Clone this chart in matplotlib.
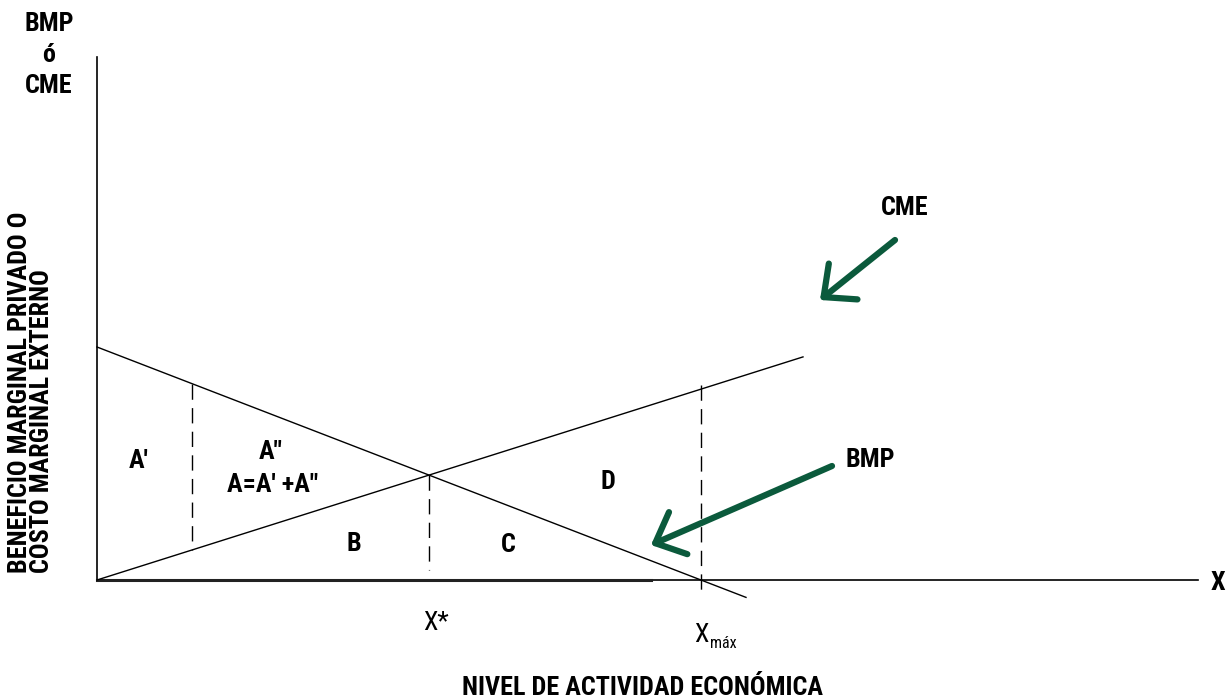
import numpy as np
import matplotlib
matplotlib.use("Agg")
import matplotlib.pyplot as plt

plt.rcParams["font.family"] = ["Liberation Sans Narrow", "Roboto Condensed",
                               "Asap Condensed", "DejaVu Sans"]

# diagram values (origin at the axes corner, y up)
bmp_intercept = 233.0
bmp_slope = -0.3858
cme_slope = 0.316
x_end_bmp = 649.0
x_end_cme = 706.0
y_axis_top = 523.0
x_axis_end = 1101.0
x_base_end = 554.0
x_left_split = 95.0

area_labels = ["A\u2032", "A\u2033", "A=A\u2032 +A\u2033", "B", "C", "D"]
area_x = [42, 174, 176, 257, 411, 511]
area_y = [119, 128, 95, 36, 35, 98]

GREEN = "#0b5a3c"
FS = 18.8


def bmp(x):
    return bmp_intercept + bmp_slope * np.asarray(x)


def cme(x):
    return cme_slope * np.asarray(x)


x_star = bmp_intercept / (cme_slope - bmp_slope)
x_max = -bmp_intercept / bmp_slope

fig = plt.figure(figsize=(12.29, 6.98), dpi=100)
ax = fig.add_axes([0, 0, 1, 1])
ax.set_xlim(-97, 1132)
ax.set_ylim(-118, 580)
ax.axis("off")

# axes
ax.plot([0, 0], [0, y_axis_top], color="black", lw=1.2)
ax.plot([0, x_axis_end], [0, 0], color="black", lw=1.2)
ax.plot([0, x_base_end], [0, 0], color="#222222", lw=2.2)

# curves
xb = np.array([0, x_end_bmp])
ax.plot(xb, bmp(xb), color="black", lw=1)
xc = np.array([0, x_end_cme])
ax.plot(xc, cme(xc), color="black", lw=1)

# dashed verticals
dash = dict(color="black", lw=1, dashes=(11, 6))
ax.plot([x_left_split, x_left_split], [bmp(x_left_split), cme(x_left_split)], **dash)
ax.plot([x_star, x_star], [bmp(x_star), 10], **dash)
ax.plot([x_max, x_max], [195, -17], **dash)

# area labels
for lab, x, y in zip(area_labels, area_x, area_y):
    ax.text(x, y, lab, ha="center", va="center", fontsize=FS, fontweight="bold")

# axis texts
ax.text(x_star + 7, -43, "X*", ha="center", va="center", fontsize=FS)
ax.text(x_max + 8, -55, "X", ha="right", va="center", fontsize=FS)
ax.text(x_max + 9, -64, "máx", ha="left", va="center", fontsize=11.5)
ax.text(1121, -3, "X", ha="center", va="center", fontsize=FS, fontweight="bold")
ax.text(545, -108, "NIVEL DE ACTIVIDAD ECONÓMICA", ha="center", va="center",
        fontsize=FS, fontweight="bold")
for lab, y in zip(["BMP", "ó", "CME"], [556, 525, 494]):
    ax.text(-48, y, lab, ha="center", va="center", fontsize=FS, fontweight="bold")
ax.text(-66, 7, "BENEFICIO MARGINAL PRIVADO O\nCOSTO MARGINAL EXTERNO",
        rotation=90, ha="center", va="bottom", multialignment="left",
        fontsize=FS, fontweight="bold", linespacing=0.92)

# curve labels with arrows
ax.text(808, 372, "CME", ha="center", va="center", fontsize=FS, fontweight="bold")
ax.text(773, 120, "BMP", ha="center", va="center", fontsize=FS, fontweight="bold")
arrow = dict(arrowstyle="->,head_length=0.6,head_width=0.55", color=GREEN,
             lw=4.5, mutation_scale=30, shrinkA=0, shrinkB=0)
ax.annotate("", xy=(723, 280), xytext=(798, 340), arrowprops=arrow)
ax.annotate("", xy=(554, 35), xytext=(735, 114), arrowprops=arrow)

fig.savefig("out.png", dpi=100)
